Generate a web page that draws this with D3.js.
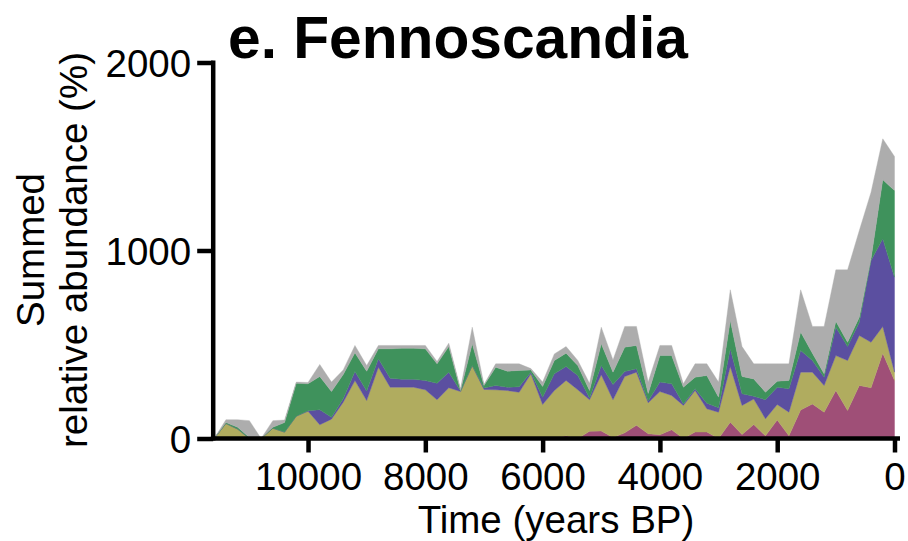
<!DOCTYPE html>
<html>
<head>
<meta charset="utf-8">
<script src="https://cdn.jsdelivr.net/npm/d3@7/dist/d3.min.js"></script>
<style>
  body { margin: 0; background: #fff; }
  text { font-family: "Liberation Sans", Arial, Helvetica, sans-serif; fill: #000; }
</style>
</head>
<body>
<svg id="chart" width="908" height="541"></svg>
<script>
// Time bins (years BP), oldest first
const years = [11600, 11400, 11200, 11000, 10800, 10600, 10400, 10200, 10000, 9800,
  9600, 9400, 9200, 9000, 8800, 8600, 8400, 8200, 8000, 7800,
  7600, 7400, 7200, 7000, 6800, 6600, 6400, 6200, 6000, 5800,
  5600, 5400, 5200, 5000, 4800, 4600, 4400, 4200, 4000, 3800,
  3600, 3400, 3200, 3000, 2800, 2600, 2400, 2200, 2000, 1800,
  1600, 1400, 1200, 1000, 800, 600, 400, 200, 0];

// Summed relative abundance (%) per group, bottom layer first
const magenta = [0, 0, 0, 0, 0, 0, 0, 0, 0, 0,
  3, 0, 0, 0, 0, 0, 0, 0, 0, 0,
  0, 0, 0, 0, 0, 8, 0, 0, 0, 0,
  15, 0, 38, 40, 5, 30, 70, 25, 20, 46,
  0, 34, 34, 0, 87, 21, 74, 14, 99, 14,
  152, 184, 140, 255, 149, 282, 270, 454, 309];
const olive = [0, 80, 50, 0, 0, 55, 34, 119, 145, 73,
  100, 193, 308, 202, 379, 273, 273, 273, 259, 206,
  270, 250, 388, 261, 259, 247, 246, 344, 181, 255,
  294, 259, 168, 299, 201, 300, 283, 165, 230, 183,
  176, 221, 124, 140, 296, 155, 136, 91, 82, 126,
  201, 169, 142, 186, 266, 266, 242, 142, 44];
const purple = [0, 0, 0, 0, 0, 0, 0, 0, 3, 80,
  10, 18, 48, 50, 45, 48, 42, 42, 49, 88,
  83, 2, 0, 7, 23, 18, 29, 9, 39, 89,
  74, 76, 10, 49, 81, 26, 18, 10, 50, 62,
  8, 9, 30, 23, 94, 62, 15, 101, 92, 124,
  115, 62, 44, 151, 74, 71, 435, 466, 505];
const green = [0, 5, 10, 5, 0, 5, 51, 175, 143, 177,
  137, 129, 100, 106, 53, 156, 165, 165, 169, 103,
  136, 3, 116, 14, 97, 85, 87, 12, 57, 71,
  71, 53, 39, 116, 66, 130, 124, 40, 141, 150,
  89, 62, 147, 57, 151, 92, 92, 40, 32, 45,
  98, 39, 18, 32, 23, 26, 10, 314, 461];
const grey = [0, 15, 40, 90, 0, 35, 13, 6, 7, 64,
  50, 25, 39, 30, 18, 18, 15, 15, 18, 13,
  18, 9, 88, 5, 18, 39, 35, 7, 23, 35,
  35, 27, 39, 88, 65, 110, 101, 60, 54, 54,
  18, 71, 62, 80, 163, 159, 80, 151, 92, 88,
  225, 142, 252, 273, 385, 461, 353, 218, 181];

const seriesKeys = ["magenta", "olive", "purple", "green", "grey"];
const seriesColors = ["#9f4f77", "#b0ac5f", "#5b4fa0", "#3f925c", "#adadad"];

const xTicks = [10000, 8000, 6000, 4000, 2000, 0];
const yTicks = [0, 1000, 2000];

const titleText = "e. Fennoscandia";
const xTitle = "Time (years BP)";
const yTitleLines = ["Summed", "relative abundance (%)"];

// Build the table the stack layout consumes
const table = years.map((yr, i) => ({
  year: yr,
  magenta: magenta[i],
  olive: olive[i],
  purple: purple[i],
  green: green[i],
  grey: grey[i]
}));

const svg = d3.select("#chart");

const x = d3.scaleLinear().domain([11600, 0]).range([214.2, 894.5]);
const y = d3.scaleLinear().domain([0, 2000]).range([438.5, 62.5]);

const stack = d3.stack().keys(seriesKeys);
const layers = stack(table);

const area = d3.area()
  .x(d => x(d.data.year))
  .y0(d => y(d[0]))
  .y1(d => y(d[1]))
  .curve(d3.curveLinear);

svg.append("g")
  .selectAll("path")
  .data(layers)
  .join("path")
  .attr("d", area)
  .attr("fill", (d, i) => seriesColors[i])
  .attr("stroke", (d, i) => seriesColors[i])
  .attr("stroke-width", 0.4);

// Axes
const axisColor = "#000";
const axisWidth = 4.5;

const xAxis = svg.append("g")
  .attr("transform", `translate(0,${y(0)})`)
  .call(d3.axisBottom(x).tickValues(xTicks).tickFormat(d3.format("d")).tickSize(14).tickPadding(10).tickSizeOuter(0));
xAxis.select(".domain").remove();
xAxis.selectAll(".tick line").attr("stroke", axisColor).attr("stroke-width", axisWidth);
xAxis.selectAll(".tick text").attr("font-size", 38.5).attr("dy", "0.71em");

const yAxis = svg.append("g")
  .attr("transform", `translate(${x(11600) - 1},0)`)
  .call(d3.axisLeft(y).tickValues(yTicks).tickFormat(d3.format("d")).tickSize(16).tickPadding(6).tickSizeOuter(0));
yAxis.select(".domain").remove();
yAxis.selectAll(".tick line").attr("stroke", axisColor).attr("stroke-width", axisWidth);
yAxis.selectAll(".tick text").attr("font-size", 38.5).attr("dy", "0.36em");

// Axis lines drawn over the areas
svg.append("line")
  .attr("x1", x(11600) - 3.3).attr("x2", x(0) + 5.5)
  .attr("y1", y(0)).attr("y2", y(0))
  .attr("stroke", axisColor).attr("stroke-width", axisWidth);
svg.append("line")
  .attr("x1", x(11600) - 1).attr("x2", x(11600) - 1)
  .attr("y1", y(2000) - 2).attr("y2", y(0) + 2)
  .attr("stroke", axisColor).attr("stroke-width", axisWidth);

// Titles
svg.append("text")
  .attr("x", 228).attr("y", 58)
  .attr("font-size", 58.7).attr("font-weight", "bold")
  .text(titleText);

svg.append("text")
  .attr("x", 556).attr("y", 533)
  .attr("text-anchor", "middle")
  .attr("font-size", 38.5)
  .text(xTitle);

const yTitle = svg.append("text")
  .attr("transform", "translate(0,250) rotate(-90)")
  .attr("text-anchor", "middle")
  .attr("font-size", 38.5);
yTitle.selectAll("tspan")
  .data(yTitleLines)
  .join("tspan")
  .attr("x", 0)
  .attr("y", (d, i) => 44 + i * 43)
  .text(d => d);
</script>
</body>
</html>
